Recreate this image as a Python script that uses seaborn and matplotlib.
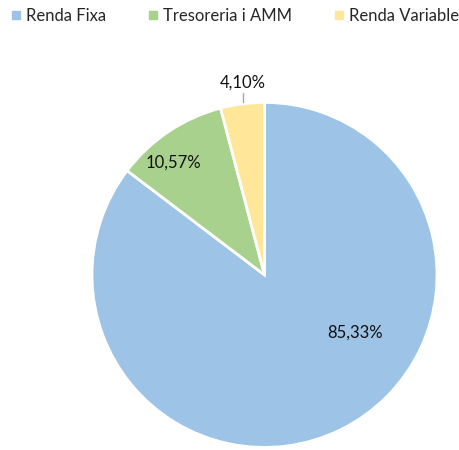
import matplotlib
matplotlib.use("Agg")
import matplotlib.pyplot as plt
import seaborn as sns
from matplotlib.lines import Line2D

categories = ["Renda Fixa", "Tresoreria i AMM", "Renda Variable"]
values = [85.33, 10.57, 4.10]
labels = ["85,33%", "10,57%", "4,10%"]
colors = ["#9DC3E6", "#A9D18E", "#FFE699"]

sns.set_theme(style="white")
plt.rcParams["font.family"] = ["Lato", "DejaVu Sans"]

fig = plt.figure(figsize=(4.6, 4.5), dpi=100)
ax = fig.add_axes([0.575 - 0.375, 0.389 - 0.3833, 0.75, 0.7667])
pal = sns.color_palette(colors)
wedges, _ = ax.pie(values, colors=pal, startangle=90, counterclock=False,
                   wedgeprops=dict(edgecolor="white", linewidth=2), radius=1.0)
ax.set_xlim(-1, 1)
ax.set_ylim(-1, 1)
ax.set_aspect("equal")
ax.axis("off")

label_pos = [(0.525, -0.336), (-0.53, 0.65), (-0.125, 1.113)]
for (x, y), t in zip(label_pos, labels):
    ax.text(x, y, t, ha="center", va="center", fontsize=12, color="#111111", clip_on=False)
ax.plot([-0.125, -0.125], [1.055, 1.0], color="#A6A6A6", linewidth=1, clip_on=False)

handles = [Line2D([0], [0], marker="s", linestyle="", markersize=6,
                  markerfacecolor=c, markeredgecolor=c) for c in colors]
fig.legend(handles, categories, loc="upper center", bbox_to_anchor=(0.507, 1.015), ncol=3,
           frameon=False, fontsize=12, handletextpad=0.1, columnspacing=2.3,
           handlelength=1.0)

fig.savefig("out.png", dpi=100)
